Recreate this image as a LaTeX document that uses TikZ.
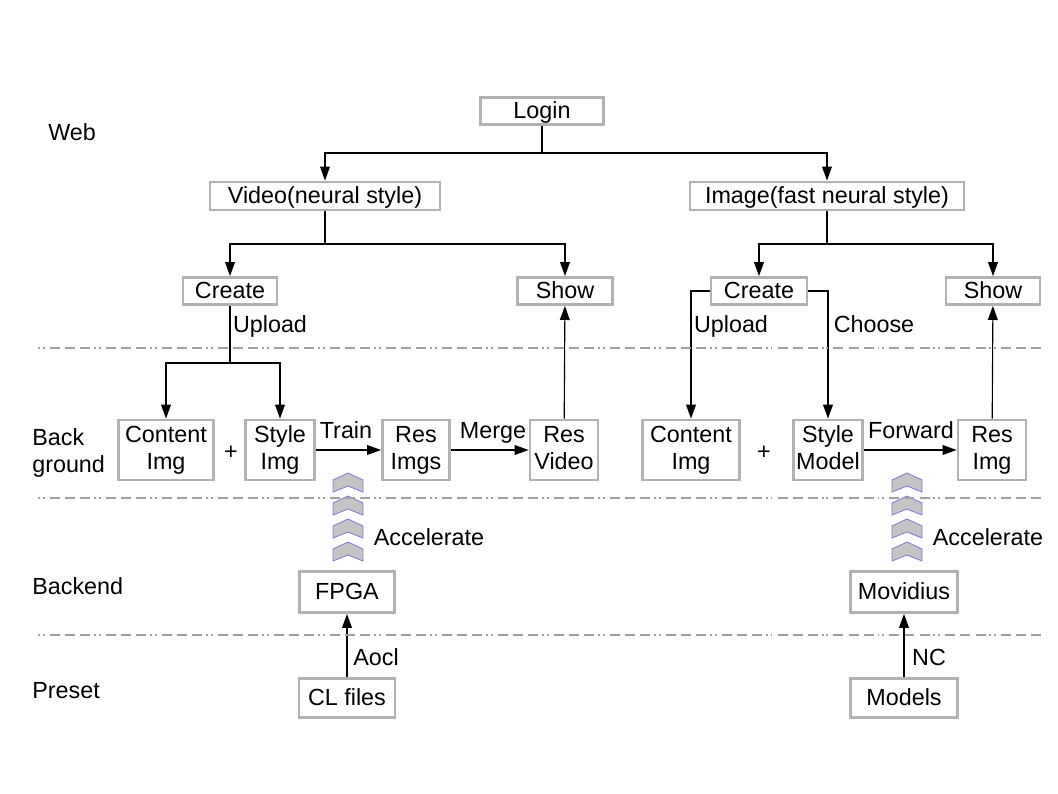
\documentclass[tikz,border=0pt]{standalone}
\usepackage{fontspec}
\setmainfont{Liberation Sans}
\usetikzlibrary{arrows.meta}
\definecolor{boxgray}{RGB}{178,178,178}
\definecolor{linegray}{RGB}{160,160,160}
\definecolor{chevfill}{RGB}{196,196,196}
\definecolor{chevline}{RGB}{125,125,215}
\begin{document}
\begin{tikzpicture}[x=0.025cm, y=-0.025cm,
  every node/.style={font=\fontsize{16.6}{19.2}\selectfont},
  box/.style 2 args={draw=boxgray, line width=2pt, fill=white, minimum width=#1*0.025cm-1.4pt, minimum height=#2*0.025cm-1.4pt, inner sep=0pt, align=center, text height=12.5pt, text depth=2.3pt},
  tallbox/.style 2 args={box={#1}{#2}, text height=30.7pt},
  arr/.style={-{Triangle[length=10pt,width=7pt]}, line width=0.8pt},
  link/.style={line width=0.8pt},
  tag/.style={anchor=base, inner sep=0pt},
  layer/.style={draw=linegray, line width=2pt, dash pattern=on 1.4pt off 2.1pt on 1.4pt off 3.6pt on 7.1pt off 3.6pt on 7.1pt off 3.6pt on 7.1pt off 2.8pt}]
\useasboundingbox (0,0) rectangle (1058,794);

% layer names
\node[tag, anchor=base west] (webname) at (48,141) {Web};
\node[tag, anchor=base west] (bgname) at (32,445) {Back};
\node[tag, anchor=base west] (bgname2) at (32,472) {ground};
\node[tag, anchor=base west] (bename) at (32,594) {Backend};
\node[tag, anchor=base west] (prname) at (32,698) {Preset};

% web
\node[box={125}{29}] (login) at (542,111) {Login};
\node[box={232}{30}] (video) at (325,196) {Video(neural style)};
\node[box={276}{30}] (image) at (827,196) {Image(fast neural style)};
\node[box={96}{29}] (createL) at (230,291) {Create};
\node[box={97}{29}] (showL) at (565,291) {Show};
\node[box={98}{29}] (createR) at (759,291) {Create};
\node[box={96}{29}] (showR) at (993,291) {Show};

% background
\node[tallbox={97}{62}] (contentL) at (166,450) {Content\\Img};
\node[tallbox={71}{62}] (styleL) at (280,450) {Style\\Img};
\node[tallbox={69}{62}] (resimgs) at (416,450) {Res\\Imgs};
\node[tallbox={70}{62}] (resvideo) at (564,450) {Res\\Video};
\node[tallbox={99}{62}] (contentR) at (691,450) {Content\\Img};
\node[tallbox={71}{62}] (styleR) at (828,450) {Style\\Model};
\node[tallbox={70}{62}] (resimg) at (992,450) {Res\\Img};
\node[tag] (plusL) at (231,459) {+};
\node[tag] (plusR) at (764,459) {+};

% backend and preset
\node[box={97}{43}] (fpga) at (347,592) {FPGA};
\node[box={109}{43}] (movidius) at (904,592) {Movidius};
\node[box={98}{41}] (clfiles) at (347,698) {CL files};
\node[box={109}{41}] (models) at (904,698) {Models};

% forks
\coordinate (webfork) at (542,153);
\coordinate (videofork) at (325,244);
\coordinate (imagefork) at (827,244);
\coordinate (uploadfork) at (230,363);

\draw[link] (login) -- (webfork);
\draw[arr] (webfork) -| (video);
\draw[arr] (webfork) -| (image);
\draw[link] (video) -- (videofork);
\draw[arr] (videofork) -| (createL);
\draw[arr] (videofork) -| (showL);
\draw[link] (image) -- (imagefork);
\draw[arr] (imagefork) -| (createR);
\draw[arr] (imagefork) -| (showR);
\draw[link] (createL) -- (uploadfork);
\draw[arr] (uploadfork) -| (contentL);
\draw[arr] (uploadfork) -| (styleL);
\draw[arr] (createR.west) -| (contentR);
\draw[arr] (createR.east) -| (styleR);
\draw[arr] (styleL) -- (resimgs);
\draw[arr] (resimgs) -- (resvideo);
\draw[arr] (resvideo) -- (showL);
\draw[arr] (styleR) -- (resimg);
\draw[arr] (resimg) -- (showR);
\draw[arr] (clfiles) -- (fpga);
\draw[arr] (models) -- (movidius);

% connector labels
\node[tag] (uploadL) at (270,332) {Upload};
\node[tag] (uploadR) at (731,332) {Upload};
\node[tag] (choose) at (874,332) {Choose};
\node[tag] (train) at (346,438) {Train};
\node[tag] (merge) at (493,438) {Merge};
\node[tag] (forward) at (911,438) {Forward};
\node[tag] (aoclname) at (376,665) {Aocl};
\node[tag] (ncname) at (929,665) {NC};
\node[tag] (accelL) at (429,545) {Accelerate};
\node[tag] (accelR) at (988,545) {Accelerate};

% accelerate chevrons
\foreach \cx in {348,907}
  \foreach \cy in {473,496,519,542}
    \filldraw[fill=chevfill, draw=chevline, line width=0.6pt]
      (\cx-15,\cy+7) -- (\cx,\cy) -- (\cx+15,\cy+7) -- (\cx+15,\cy+19)
      -- (\cx,\cy+13) -- (\cx-15,\cy+19) -- cycle;

% layer borders
\foreach \ly in {348,498,635}
  \draw[layer] (38,\ly) -- (1045,\ly);
\end{tikzpicture}
\end{document}
